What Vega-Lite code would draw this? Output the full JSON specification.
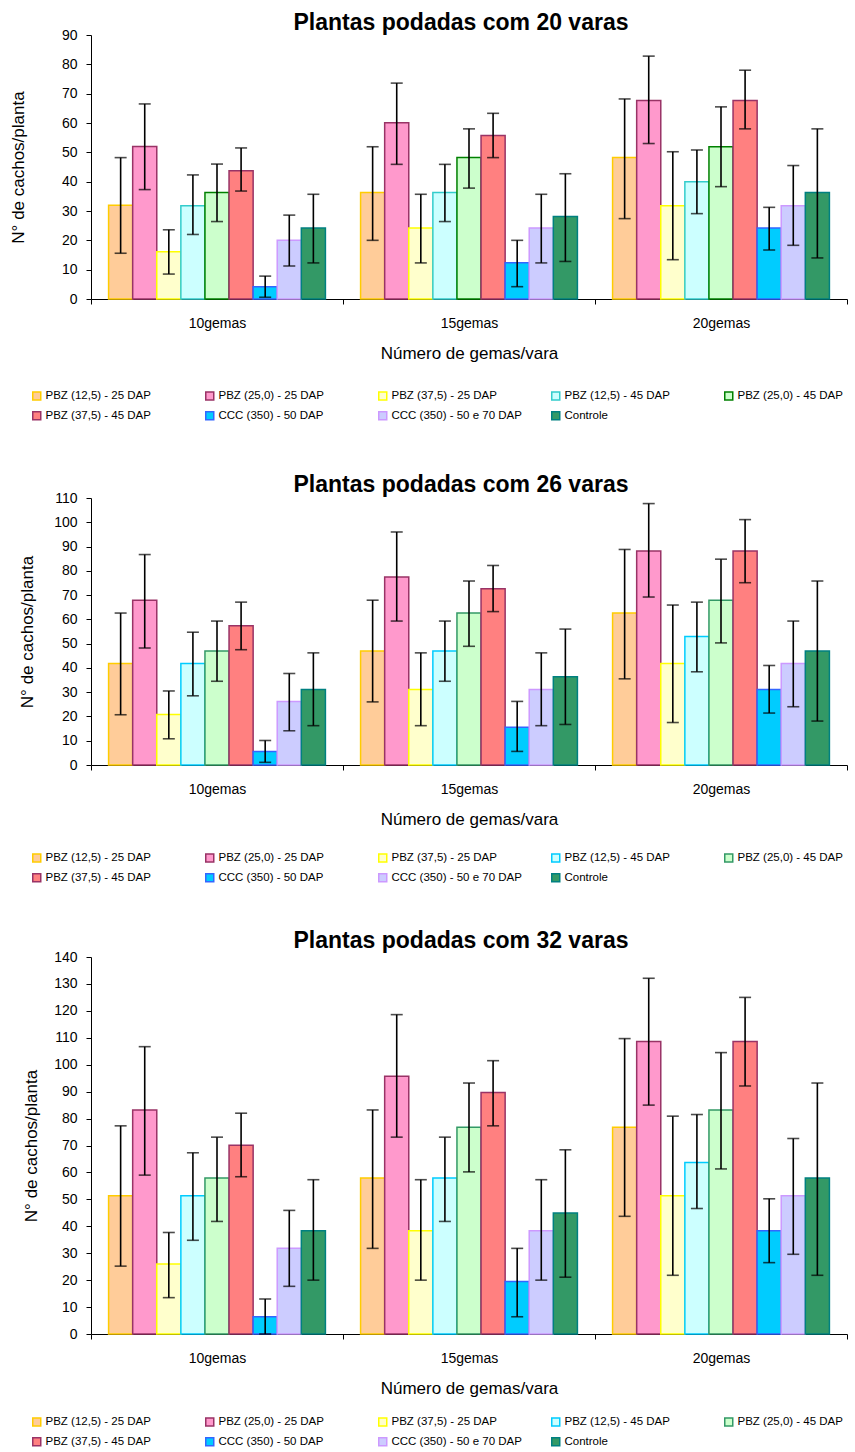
{
  "$schema": "https://vega.github.io/schema/vega-lite/v6.json",
  "padding": {"left": 9, "top": 11, "right": 0, "bottom": 0},
  "background": "white",
  "spacing": 44,
  "config": {
    "font": "Liberation Sans",
    "view": {"stroke": null},
    "title": {"fontSize": 23, "fontWeight": "bold", "anchor": "middle", "color": "black", "font": "Liberation Sans", "frame": "group", "dx": -8},
    "axis": {"grid": false, "domainColor": "black", "tickColor": "black", "labelColor": "black", "titleColor": "black", "titleFontWeight": "normal", "domainWidth": 1, "tickWidth": 1},
    "axisX": {"tickBand": "extent", "labelAngle": 0, "tickSize": 5, "labelPadding": 12, "labelFontSize": 14, "titleFontSize": 17, "titlePadding": 15},
    "axisY": {"tickSize": 5, "labelPadding": 9, "labelFontSize": 14, "titleFontSize": 17},
    "legend": {"title": null, "orient": "none", "columns": 5, "symbolType": "square", "symbolSize": 64, "symbolStrokeWidth": 1.5, "labelFontSize": 11.5, "labelOffset": 3, "columnPadding": 26, "rowPadding": 5, "gridAlign": "all", "padding": 0, "direction": "horizontal", "labelLimit": 220, "labelColor": "black", "symbolOpacity": 1}
  },
  "resolve": {"scale": {"fill": "independent", "stroke": "independent", "y": "independent"}, "legend": {"fill": "independent", "stroke": "independent"}},
  "datasets": {
    "d20": [
      {"gemas": "10gemas", "trat": "PBZ (12,5) - 25 DAP", "media": 32, "lo": 15.6, "hi": 48.2},
      {"gemas": "10gemas", "trat": "PBZ (25,0) - 25 DAP", "media": 52, "lo": 37.3, "hi": 66.5},
      {"gemas": "10gemas", "trat": "PBZ (37,5) - 25 DAP", "media": 16.1, "lo": 8.5, "hi": 23.6},
      {"gemas": "10gemas", "trat": "PBZ (12,5) - 45 DAP", "media": 31.8, "lo": 22.0, "hi": 42.3},
      {"gemas": "10gemas", "trat": "PBZ (25,0) - 45 DAP", "media": 36.3, "lo": 26.4, "hi": 46.0},
      {"gemas": "10gemas", "trat": "PBZ (37,5) - 45 DAP", "media": 43.75, "lo": 36.8, "hi": 51.5},
      {"gemas": "10gemas", "trat": "CCC (350) - 50 DAP", "media": 4.2, "lo": 0.6, "hi": 7.8},
      {"gemas": "10gemas", "trat": "CCC (350) - 50 e 70 DAP", "media": 20, "lo": 11.25, "hi": 28.6},
      {"gemas": "10gemas", "trat": "Controle", "media": 24.2, "lo": 12.3, "hi": 35.7},
      {"gemas": "15gemas", "trat": "PBZ (12,5) - 25 DAP", "media": 36.3, "lo": 20, "hi": 51.9},
      {"gemas": "15gemas", "trat": "PBZ (25,0) - 25 DAP", "media": 60.1, "lo": 45.9, "hi": 73.6},
      {"gemas": "15gemas", "trat": "PBZ (37,5) - 25 DAP", "media": 24.2, "lo": 12.3, "hi": 35.7},
      {"gemas": "15gemas", "trat": "PBZ (12,5) - 45 DAP", "media": 36.3, "lo": 26.4, "hi": 45.9},
      {"gemas": "15gemas", "trat": "PBZ (25,0) - 45 DAP", "media": 48.2, "lo": 37.8, "hi": 58},
      {"gemas": "15gemas", "trat": "PBZ (37,5) - 45 DAP", "media": 55.7, "lo": 48.2, "hi": 63.3},
      {"gemas": "15gemas", "trat": "CCC (350) - 50 DAP", "media": 12.4, "lo": 4.2, "hi": 20},
      {"gemas": "15gemas", "trat": "CCC (350) - 50 e 70 DAP", "media": 24.2, "lo": 12.3, "hi": 35.7},
      {"gemas": "15gemas", "trat": "Controle", "media": 28.1, "lo": 12.8, "hi": 42.7},
      {"gemas": "20gemas", "trat": "PBZ (12,5) - 25 DAP", "media": 48.2, "lo": 27.4, "hi": 68.2},
      {"gemas": "20gemas", "trat": "PBZ (25,0) - 25 DAP", "media": 67.7, "lo": 53, "hi": 82.8},
      {"gemas": "20gemas", "trat": "PBZ (37,5) - 25 DAP", "media": 31.8, "lo": 13.4, "hi": 50.2},
      {"gemas": "20gemas", "trat": "PBZ (12,5) - 45 DAP", "media": 40, "lo": 29.1, "hi": 50.8},
      {"gemas": "20gemas", "trat": "PBZ (25,0) - 45 DAP", "media": 51.9, "lo": 38.3, "hi": 65.5},
      {"gemas": "20gemas", "trat": "PBZ (37,5) - 45 DAP", "media": 67.7, "lo": 58, "hi": 78},
      {"gemas": "20gemas", "trat": "CCC (350) - 50 DAP", "media": 24.2, "lo": 16.7, "hi": 31.25},
      {"gemas": "20gemas", "trat": "CCC (350) - 50 e 70 DAP", "media": 31.8, "lo": 18.3, "hi": 45.5},
      {"gemas": "20gemas", "trat": "Controle", "media": 36.3, "lo": 14, "hi": 58}
    ],
    "d26": [
      {"gemas": "10gemas", "trat": "PBZ (12,5) - 25 DAP", "media": 41.8, "lo": 20.7, "hi": 62.6},
      {"gemas": "10gemas", "trat": "PBZ (25,0) - 25 DAP", "media": 67.9, "lo": 48.2, "hi": 86.7},
      {"gemas": "10gemas", "trat": "PBZ (37,5) - 25 DAP", "media": 20.8, "lo": 10.8, "hi": 30.5},
      {"gemas": "10gemas", "trat": "PBZ (12,5) - 45 DAP", "media": 41.8, "lo": 28.5, "hi": 54.7},
      {"gemas": "10gemas", "trat": "PBZ (25,0) - 45 DAP", "media": 47, "lo": 34.5, "hi": 59.3},
      {"gemas": "10gemas", "trat": "PBZ (37,5) - 45 DAP", "media": 57.4, "lo": 47.5, "hi": 67.1},
      {"gemas": "10gemas", "trat": "CCC (350) - 50 DAP", "media": 5.6, "lo": 1.1, "hi": 10.1},
      {"gemas": "10gemas", "trat": "CCC (350) - 50 e 70 DAP", "media": 26.2, "lo": 14.1, "hi": 37.7},
      {"gemas": "10gemas", "trat": "Controle", "media": 31.1, "lo": 16.2, "hi": 46.2},
      {"gemas": "15gemas", "trat": "PBZ (12,5) - 25 DAP", "media": 47, "lo": 26, "hi": 67.9},
      {"gemas": "15gemas", "trat": "PBZ (25,0) - 25 DAP", "media": 77.5, "lo": 59.3, "hi": 96},
      {"gemas": "15gemas", "trat": "PBZ (37,5) - 25 DAP", "media": 31.1, "lo": 16.2, "hi": 46.2},
      {"gemas": "15gemas", "trat": "PBZ (12,5) - 45 DAP", "media": 47, "lo": 34.5, "hi": 59.3},
      {"gemas": "15gemas", "trat": "PBZ (25,0) - 45 DAP", "media": 62.6, "lo": 48.9, "hi": 75.8},
      {"gemas": "15gemas", "trat": "PBZ (37,5) - 45 DAP", "media": 72.6, "lo": 63.2, "hi": 82.2},
      {"gemas": "15gemas", "trat": "CCC (350) - 50 DAP", "media": 15.6, "lo": 5.6, "hi": 26.2},
      {"gemas": "15gemas", "trat": "CCC (350) - 50 e 70 DAP", "media": 31.1, "lo": 16.2, "hi": 46.2},
      {"gemas": "15gemas", "trat": "Controle", "media": 36.4, "lo": 16.7, "hi": 56},
      {"gemas": "20gemas", "trat": "PBZ (12,5) - 25 DAP", "media": 62.6, "lo": 35.5, "hi": 88.8},
      {"gemas": "20gemas", "trat": "PBZ (25,0) - 25 DAP", "media": 88.2, "lo": 69.2, "hi": 107.7},
      {"gemas": "20gemas", "trat": "PBZ (37,5) - 25 DAP", "media": 41.8, "lo": 17.5, "hi": 65.9},
      {"gemas": "20gemas", "trat": "PBZ (12,5) - 45 DAP", "media": 52.9, "lo": 38.4, "hi": 67.1},
      {"gemas": "20gemas", "trat": "PBZ (25,0) - 45 DAP", "media": 67.9, "lo": 50.3, "hi": 84.8},
      {"gemas": "20gemas", "trat": "PBZ (37,5) - 45 DAP", "media": 88.2, "lo": 75.1, "hi": 101.1},
      {"gemas": "20gemas", "trat": "CCC (350) - 50 DAP", "media": 31.1, "lo": 21.4, "hi": 41},
      {"gemas": "20gemas", "trat": "CCC (350) - 50 e 70 DAP", "media": 41.8, "lo": 24, "hi": 59.3},
      {"gemas": "20gemas", "trat": "Controle", "media": 47, "lo": 18.1, "hi": 75.8}
    ],
    "d32": [
      {"gemas": "10gemas", "trat": "PBZ (12,5) - 25 DAP", "media": 51.3, "lo": 25.2, "hi": 77.3},
      {"gemas": "10gemas", "trat": "PBZ (25,0) - 25 DAP", "media": 83.2, "lo": 59, "hi": 106.7},
      {"gemas": "10gemas", "trat": "PBZ (37,5) - 25 DAP", "media": 26, "lo": 13.5, "hi": 37.7},
      {"gemas": "10gemas", "trat": "PBZ (12,5) - 45 DAP", "media": 51.3, "lo": 34.8, "hi": 67.3},
      {"gemas": "10gemas", "trat": "PBZ (25,0) - 45 DAP", "media": 57.9, "lo": 41.8, "hi": 73.1},
      {"gemas": "10gemas", "trat": "PBZ (37,5) - 45 DAP", "media": 70.1, "lo": 58.4, "hi": 82},
      {"gemas": "10gemas", "trat": "CCC (350) - 50 DAP", "media": 6.4, "lo": 0, "hi": 13},
      {"gemas": "10gemas", "trat": "CCC (350) - 50 e 70 DAP", "media": 31.8, "lo": 17.7, "hi": 45.9},
      {"gemas": "10gemas", "trat": "Controle", "media": 38.3, "lo": 20, "hi": 57.3},
      {"gemas": "15gemas", "trat": "PBZ (12,5) - 25 DAP", "media": 57.9, "lo": 31.8, "hi": 83.2},
      {"gemas": "15gemas", "trat": "PBZ (25,0) - 25 DAP", "media": 95.7, "lo": 73.1, "hi": 118.6},
      {"gemas": "15gemas", "trat": "PBZ (37,5) - 25 DAP", "media": 38.3, "lo": 20, "hi": 57.3},
      {"gemas": "15gemas", "trat": "PBZ (12,5) - 45 DAP", "media": 57.9, "lo": 41.8, "hi": 73.1},
      {"gemas": "15gemas", "trat": "PBZ (25,0) - 45 DAP", "media": 76.8, "lo": 60.2, "hi": 93.2},
      {"gemas": "15gemas", "trat": "PBZ (37,5) - 45 DAP", "media": 89.7, "lo": 77.3, "hi": 101.5},
      {"gemas": "15gemas", "trat": "CCC (350) - 50 DAP", "media": 19.5, "lo": 6.4, "hi": 31.8},
      {"gemas": "15gemas", "trat": "CCC (350) - 50 e 70 DAP", "media": 38.3, "lo": 20, "hi": 57.3},
      {"gemas": "15gemas", "trat": "Controle", "media": 44.9, "lo": 21.1, "hi": 68.4},
      {"gemas": "20gemas", "trat": "PBZ (12,5) - 25 DAP", "media": 76.8, "lo": 43.7, "hi": 109.7},
      {"gemas": "20gemas", "trat": "PBZ (25,0) - 25 DAP", "media": 108.6, "lo": 85, "hi": 132.1},
      {"gemas": "20gemas", "trat": "PBZ (37,5) - 25 DAP", "media": 51.3, "lo": 21.8, "hi": 80.9},
      {"gemas": "20gemas", "trat": "PBZ (12,5) - 45 DAP", "media": 63.7, "lo": 46.6, "hi": 81.5},
      {"gemas": "20gemas", "trat": "PBZ (25,0) - 45 DAP", "media": 83.2, "lo": 61.3, "hi": 104.5},
      {"gemas": "20gemas", "trat": "PBZ (37,5) - 45 DAP", "media": 108.6, "lo": 92.1, "hi": 125},
      {"gemas": "20gemas", "trat": "CCC (350) - 50 DAP", "media": 38.3, "lo": 26.5, "hi": 50.2},
      {"gemas": "20gemas", "trat": "CCC (350) - 50 e 70 DAP", "media": 51.3, "lo": 29.6, "hi": 72.6},
      {"gemas": "20gemas", "trat": "Controle", "media": 57.9, "lo": 21.8, "hi": 93.2}
    ]
  },
  "vconcat": [
    {
      "width": 756, "height": 264,
      "data": {"name": "d20"},
      "title": {"text": "Plantas podadas com 20 varas", "offset": -6.5},
      "encoding": {
        "x": {"field": "gemas", "type": "nominal", "title": "Número de gemas/vara", "scale": {"paddingInner": 0, "paddingOuter": 0}},
        "xOffset": {"field": "trat", "type": "nominal", "sort": ["PBZ (12,5) - 25 DAP", "PBZ (25,0) - 25 DAP", "PBZ (37,5) - 25 DAP", "PBZ (12,5) - 45 DAP", "PBZ (25,0) - 45 DAP", "PBZ (37,5) - 45 DAP", "CCC (350) - 50 DAP", "CCC (350) - 50 e 70 DAP", "Controle"], "scale": {"paddingInner": 0, "paddingOuter": 0.73}}
      },
      "layer": [
        {
          "mark": {"type": "bar", "strokeWidth": 1.5},
          "encoding": {
            "y": {"field": "media", "type": "quantitative", "title": "N° de cachos/planta", "scale": {"domain": [0, 90]}, "axis": {"values": [0, 10, 20, 30, 40, 50, 60, 70, 80, 90], "titlePadding": 34}},
            "fill": {"field": "trat", "type": "nominal", "scale": {"domain": ["PBZ (12,5) - 25 DAP", "PBZ (25,0) - 25 DAP", "PBZ (37,5) - 25 DAP", "PBZ (12,5) - 45 DAP", "PBZ (25,0) - 45 DAP", "PBZ (37,5) - 45 DAP", "CCC (350) - 50 DAP", "CCC (350) - 50 e 70 DAP", "Controle"], "range": ["#FFCC99", "#FF99CC", "#FFFFCC", "#CCFFFF", "#CCFFCC", "#FF8080", "#00CCFF", "#CCCCFF", "#339966"]}, "legend": {"legendX": -66, "legendY": 349, "padding": 6}},
            "stroke": {"field": "trat", "type": "nominal", "scale": {"domain": ["PBZ (12,5) - 25 DAP", "PBZ (25,0) - 25 DAP", "PBZ (37,5) - 25 DAP", "PBZ (12,5) - 45 DAP", "PBZ (25,0) - 45 DAP", "PBZ (37,5) - 45 DAP", "CCC (350) - 50 DAP", "CCC (350) - 50 e 70 DAP", "Controle"], "range": ["#FFCC00", "#993366", "#FFFF00", "#33CCCC", "#008000", "#993366", "#3366FF", "#CC99FF", "#008080"]}, "legend": {"legendX": -66, "legendY": 349, "padding": 6}}
          }
        },
        {
          "mark": {"type": "rule", "color": "black", "strokeWidth": 1.6},
          "encoding": {
            "y": {"field": "lo", "type": "quantitative", "title": "N° de cachos/planta", "scale": {"domain": [0, 90]}, "axis": {"values": [0, 10, 20, 30, 40, 50, 60, 70, 80, 90], "titlePadding": 34}},
            "y2": {"field": "hi"}
          }
        },
        {
          "mark": {"type": "tick", "color": "black", "thickness": 1.6, "size": 12},
          "encoding": {
            "y": {"field": "lo", "type": "quantitative", "title": "N° de cachos/planta", "scale": {"domain": [0, 90]}, "axis": {"values": [0, 10, 20, 30, 40, 50, 60, 70, 80, 90], "titlePadding": 34}}
          }
        },
        {
          "mark": {"type": "tick", "color": "black", "thickness": 1.6, "size": 12},
          "encoding": {
            "y": {"field": "hi", "type": "quantitative", "title": "N° de cachos/planta", "scale": {"domain": [0, 90]}, "axis": {"values": [0, 10, 20, 30, 40, 50, 60, 70, 80, 90], "titlePadding": 34}}
          }
        }
      ]
    },
    {
      "width": 756, "height": 267,
      "data": {"name": "d26"},
      "title": {"text": "Plantas podadas com 26 varas", "offset": -5.5},
      "encoding": {
        "x": {"field": "gemas", "type": "nominal", "title": "Número de gemas/vara", "scale": {"paddingInner": 0, "paddingOuter": 0}},
        "xOffset": {"field": "trat", "type": "nominal", "sort": ["PBZ (12,5) - 25 DAP", "PBZ (25,0) - 25 DAP", "PBZ (37,5) - 25 DAP", "PBZ (12,5) - 45 DAP", "PBZ (25,0) - 45 DAP", "PBZ (37,5) - 45 DAP", "CCC (350) - 50 DAP", "CCC (350) - 50 e 70 DAP", "Controle"], "scale": {"paddingInner": 0, "paddingOuter": 0.73}}
      },
      "layer": [
        {
          "mark": {"type": "bar", "strokeWidth": 1.5},
          "encoding": {
            "y": {"field": "media", "type": "quantitative", "title": "N° de cachos/planta", "scale": {"domain": [0, 110]}, "axis": {"values": [0, 10, 20, 30, 40, 50, 60, 70, 80, 90, 100, 110], "titlePadding": 17}},
            "fill": {"field": "trat", "type": "nominal", "scale": {"domain": ["PBZ (12,5) - 25 DAP", "PBZ (25,0) - 25 DAP", "PBZ (37,5) - 25 DAP", "PBZ (12,5) - 45 DAP", "PBZ (25,0) - 45 DAP", "PBZ (37,5) - 45 DAP", "CCC (350) - 50 DAP", "CCC (350) - 50 e 70 DAP", "Controle"], "range": ["#FFCC99", "#FF99CC", "#FFFFCC", "#CCFFFF", "#CCFFCC", "#FF8080", "#00CCFF", "#CCCCFF", "#339966"]}, "legend": {"legendX": -60, "legendY": 354}},
            "stroke": {"field": "trat", "type": "nominal", "scale": {"domain": ["PBZ (12,5) - 25 DAP", "PBZ (25,0) - 25 DAP", "PBZ (37,5) - 25 DAP", "PBZ (12,5) - 45 DAP", "PBZ (25,0) - 45 DAP", "PBZ (37,5) - 45 DAP", "CCC (350) - 50 DAP", "CCC (350) - 50 e 70 DAP", "Controle"], "range": ["#FFCC00", "#993366", "#FFFF00", "#00CCFF", "#339966", "#993366", "#3366FF", "#CC99FF", "#008080"]}, "legend": {"legendX": -60, "legendY": 354}}
          }
        },
        {
          "mark": {"type": "rule", "color": "black", "strokeWidth": 1.6},
          "encoding": {
            "y": {"field": "lo", "type": "quantitative", "title": "N° de cachos/planta", "scale": {"domain": [0, 110]}, "axis": {"values": [0, 10, 20, 30, 40, 50, 60, 70, 80, 90, 100, 110], "titlePadding": 17}},
            "y2": {"field": "hi"}
          }
        },
        {
          "mark": {"type": "tick", "color": "black", "thickness": 1.6, "size": 12},
          "encoding": {
            "y": {"field": "lo", "type": "quantitative", "title": "N° de cachos/planta", "scale": {"domain": [0, 110]}, "axis": {"values": [0, 10, 20, 30, 40, 50, 60, 70, 80, 90, 100, 110], "titlePadding": 17}}
          }
        },
        {
          "mark": {"type": "tick", "color": "black", "thickness": 1.6, "size": 12},
          "encoding": {
            "y": {"field": "hi", "type": "quantitative", "title": "N° de cachos/planta", "scale": {"domain": [0, 110]}, "axis": {"values": [0, 10, 20, 30, 40, 50, 60, 70, 80, 90, 100, 110], "titlePadding": 17}}
          }
        }
      ]
    },
    {
      "width": 756, "height": 377,
      "data": {"name": "d32"},
      "title": {"text": "Plantas podadas com 32 varas", "offset": -2.5},
      "encoding": {
        "x": {"field": "gemas", "type": "nominal", "title": "Número de gemas/vara", "scale": {"paddingInner": 0, "paddingOuter": 0}},
        "xOffset": {"field": "trat", "type": "nominal", "sort": ["PBZ (12,5) - 25 DAP", "PBZ (25,0) - 25 DAP", "PBZ (37,5) - 25 DAP", "PBZ (12,5) - 45 DAP", "PBZ (25,0) - 45 DAP", "PBZ (37,5) - 45 DAP", "CCC (350) - 50 DAP", "CCC (350) - 50 e 70 DAP", "Controle"], "scale": {"paddingInner": 0, "paddingOuter": 0.73}}
      },
      "layer": [
        {
          "mark": {"type": "bar", "strokeWidth": 1.5},
          "encoding": {
            "y": {"field": "media", "type": "quantitative", "title": "N° de cachos/planta", "scale": {"domain": [0, 140]}, "axis": {"values": [0, 10, 20, 30, 40, 50, 60, 70, 80, 90, 100, 110, 120, 130, 140], "titlePadding": 13}},
            "fill": {"field": "trat", "type": "nominal", "scale": {"domain": ["PBZ (12,5) - 25 DAP", "PBZ (25,0) - 25 DAP", "PBZ (37,5) - 25 DAP", "PBZ (12,5) - 45 DAP", "PBZ (25,0) - 45 DAP", "PBZ (37,5) - 45 DAP", "CCC (350) - 50 DAP", "CCC (350) - 50 e 70 DAP", "Controle"], "range": ["#FFCC99", "#FF99CC", "#FFFFCC", "#CCFFFF", "#CCFFCC", "#FF8080", "#00CCFF", "#CCCCFF", "#339966"]}, "legend": {"legendX": -60, "legendY": 459}},
            "stroke": {"field": "trat", "type": "nominal", "scale": {"domain": ["PBZ (12,5) - 25 DAP", "PBZ (25,0) - 25 DAP", "PBZ (37,5) - 25 DAP", "PBZ (12,5) - 45 DAP", "PBZ (25,0) - 45 DAP", "PBZ (37,5) - 45 DAP", "CCC (350) - 50 DAP", "CCC (350) - 50 e 70 DAP", "Controle"], "range": ["#FFCC00", "#993366", "#FFFF00", "#00CCFF", "#339966", "#993366", "#3366FF", "#CC99FF", "#008080"]}, "legend": {"legendX": -60, "legendY": 459}}
          }
        },
        {
          "mark": {"type": "rule", "color": "black", "strokeWidth": 1.6},
          "encoding": {
            "y": {"field": "lo", "type": "quantitative", "title": "N° de cachos/planta", "scale": {"domain": [0, 140]}, "axis": {"values": [0, 10, 20, 30, 40, 50, 60, 70, 80, 90, 100, 110, 120, 130, 140], "titlePadding": 13}},
            "y2": {"field": "hi"}
          }
        },
        {
          "mark": {"type": "tick", "color": "black", "thickness": 1.6, "size": 12},
          "encoding": {
            "y": {"field": "lo", "type": "quantitative", "title": "N° de cachos/planta", "scale": {"domain": [0, 140]}, "axis": {"values": [0, 10, 20, 30, 40, 50, 60, 70, 80, 90, 100, 110, 120, 130, 140], "titlePadding": 13}}
          }
        },
        {
          "mark": {"type": "tick", "color": "black", "thickness": 1.6, "size": 12},
          "encoding": {
            "y": {"field": "hi", "type": "quantitative", "title": "N° de cachos/planta", "scale": {"domain": [0, 140]}, "axis": {"values": [0, 10, 20, 30, 40, 50, 60, 70, 80, 90, 100, 110, 120, 130, 140], "titlePadding": 13}}
          }
        }
      ]
    }
  ]
}
